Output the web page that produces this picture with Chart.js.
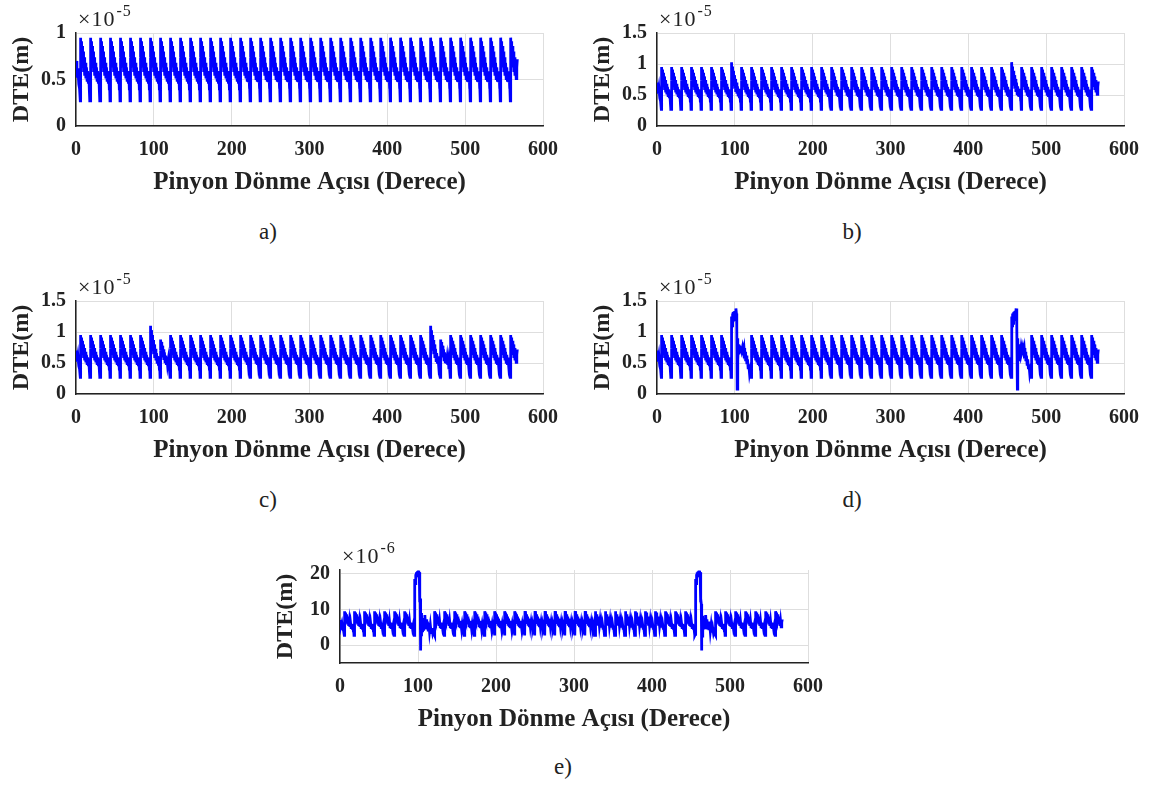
<!DOCTYPE html>
<html>
<head>
<meta charset="utf-8">
<script src="https://cdn.jsdelivr.net/npm/chart.js@4/dist/chart.umd.min.js"></script>
<style>
  body { margin: 0; background: #fff; }
  #page { position: relative; width: 1156px; height: 787px; overflow: hidden; font-family: "Liberation Serif", "Times New Roman", serif; color: #222; }
  canvas { position: absolute; }
  .mult { position: absolute; font-size: 22px; line-height: 1; white-space: nowrap; letter-spacing: 1px; }
  .mult .ex { font-size: 16px; position: relative; top: -10px; margin-left: 1px; }
  .cap { position: absolute; font-size: 23px; transform: translate(-50%, -50%); }
</style>
</head>
<body>
<div id="page"></div>
<script>
// mesh geometry of the pinion (28 teeth)
const meshPeriod = 360 / 28;
const firstOnset = 5.5;
const signalEnd = 567;
const faultTeeth = [7, 35];

// one normal tooth mesh: [phase 0..1, DTE x1e-5 m]
const toothShape = [
  [0.00, 0.27], [0.02, 0.95], [0.05, 0.74], [0.09, 0.91], [0.13, 0.68], [0.18, 0.86],
  [0.23, 0.63], [0.28, 0.80], [0.33, 0.58], [0.38, 0.74], [0.44, 0.54], [0.50, 0.68],
  [0.56, 0.51], [0.62, 0.63], [0.68, 0.49], [0.74, 0.59], [0.80, 0.47], [0.86, 0.55],
  [0.90, 0.40], [0.93, 0.46], [0.97, 0.27]
];

// fault windows: [degrees after the fault tooth onset, DTE]
const faultB = [
  [0, 0.27], [0.3, 1.03], [0.65, 0.78], [1.1, 0.96], [1.6, 0.71], [2.2, 0.89], [2.9, 0.65],
  [3.5, 0.82], [4.2, 0.60], [4.9, 0.76], [5.6, 0.55], [6.4, 0.70], [7.2, 0.52], [7.9, 0.64],
  [8.7, 0.50], [9.5, 0.60], [10.3, 0.47], [11.0, 0.55], [11.6, 0.40], [12.0, 0.46], [12.5, 0.27]
];
const faultC = [
  [0, 0.27], [0.3, 1.10], [0.65, 0.84], [1.1, 1.03], [1.6, 0.76], [2.2, 0.95], [2.9, 0.70],
  [3.5, 0.87], [4.2, 0.64], [4.9, 0.80], [5.6, 0.58], [6.4, 0.73], [7.2, 0.54], [7.9, 0.66],
  [8.7, 0.51], [9.5, 0.61], [10.3, 0.48], [11.0, 0.55], [11.6, 0.40], [12.0, 0.46], [12.5, 0.27],
  [12.9, 0.30], [13.2, 0.88], [13.6, 0.70], [14.1, 0.84], [14.7, 0.64], [15.3, 0.78],
  [16.0, 0.59], [16.7, 0.72], [17.4, 0.55], [18.1, 0.67], [18.9, 0.52], [19.7, 0.62],
  [20.5, 0.49], [21.3, 0.58], [22.1, 0.47], [22.9, 0.54], [23.6, 0.40], [24.3, 0.45], [25.3, 0.27]
];
const faultD = [
  [0, 0.27], [0.3, 0.80], [0.6, 1.25], [1.0, 1.10], [1.4, 1.30], [1.9, 1.14], [2.4, 1.32],
  [2.9, 1.17], [3.5, 1.33], [4.1, 1.18], [4.7, 1.34], [5.3, 1.24], [5.9, 1.38], [6.5, 1.30],
  [7.0, 1.10], [7.5, 0.08], [8.0, 0.90], [8.5, 0.55], [9.1, 0.80], [9.8, 0.64], [10.6, 0.78],
  [11.5, 0.68], [12.4, 0.77], [13.4, 0.70], [14.4, 0.76], [15.4, 0.68], [16.3, 0.74],
  [17.2, 0.58], [17.8, 0.68], [18.4, 0.53], [19.2, 0.62], [20.0, 0.48], [20.8, 0.56],
  [21.6, 0.42], [22.4, 0.48], [23.4, 0.33], [24.4, 0.40], [25.3, 0.27]
];
// panel e is in x1e-6 m
const faultE = [
  [0, 3], [0.3, 8], [0.6, 18.5], [1.0, 17.2], [1.4, 19.8], [1.9, 18.4], [2.5, 20.3], [3.1, 19.0],
  [3.7, 20.6], [4.3, 19.3], [4.9, 20.8], [5.5, 19.6], [6.1, 20.4], [6.6, 15], [6.9, 12],
  [7.3, 13], [7.7, 11.5], [8.0, -1.5], [8.4, 9], [8.8, 2.5], [9.3, 8.2], [9.8, 4], [10.4, 7.6],
  [11.1, 4.4], [11.8, 7.4], [12.6, 4.8], [13.3, 8.4], [14.1, 5.2], [14.9, 7.2], [15.7, 4.4],
  [16.6, 6.6], [17.5, 4.2], [18.4, 6.2], [19.3, 3.8], [20.3, 5.6], [21.3, 3.5], [22.3, 4.8],
  [23.4, 3.2], [24.4, 3.9], [25.3, 3]
];

const xTicks = [0, 100, 200, 300, 400, 500, 600];
const yTicksA = [0, 0.5, 1];
const yTicksB = [0, 0.5, 1, 1.5];
const yTicksE = [0, 10, 20];

function buildSeries(scale, fault) {
  const pts = [{ x: 0, y: 0.70 * scale }, { x: 1.2, y: 0.52 * scale }, { x: 2.4, y: 0.62 * scale },
               { x: 3.6, y: 0.45 * scale }, { x: 4.6, y: 0.40 * scale }];
  for (let k = 0; k < 45; k++) {
    const onset = firstOnset + k * meshPeriod;
    if (fault) {
      const fk = faultTeeth.find(t => k >= t && (k - t) * meshPeriod < fault[fault.length - 1][0] - 0.1);
      if (fk !== undefined) {
        if (fk === k) fault.forEach(([dx, v]) => pts.push({ x: onset + dx, y: v }));
        continue;
      }
    }
    toothShape.forEach(([p, v]) => pts.push({ x: onset + p * meshPeriod, y: v * scale }));
  }
  const out = pts.filter(p => p.x <= signalEnd);
  out.push({ x: signalEnd, y: 0.72 * scale });
  return out;
}

const panels = [
  { L: 76,  T: 33,  R: 543,  B: 126, ymin: 0,  ymax: 1,   ticks: yTicksA, data: buildSeries(1, null),    exp: '-5', cap: 'a)', cx: 268, cy: 232 },
  { L: 657, T: 33,  R: 1124, B: 126, ymin: 0,  ymax: 1.5, ticks: yTicksB, data: buildSeries(1, faultB),  exp: '-5', cap: 'b)', cx: 852, cy: 232 },
  { L: 76,  T: 301, R: 543,  B: 394, ymin: 0,  ymax: 1.5, ticks: yTicksB, data: buildSeries(1, faultC),  exp: '-5', cap: 'c)', cx: 268, cy: 500 },
  { L: 657, T: 301, R: 1124, B: 394, ymin: 0,  ymax: 1.5, ticks: yTicksB, data: buildSeries(1, faultD),  exp: '-5', cap: 'd)', cx: 852, cy: 500 },
  { L: 340, T: 570, R: 808,  B: 663, ymin: -5, ymax: 21,  ticks: yTicksE, data: buildSeries(10, faultE), exp: '-6', cap: 'e)', cx: 563, cy: 767 }
];

const page = document.getElementById('page');
const ink = '#222';
const gridCol = '#dedede';
const padTop = 26, padRight = 30, yAxisW = 76, xAxisH = 72;

panels.forEach(p => {
  const cv = document.createElement('canvas');
  const w = p.R - p.L + yAxisW + padRight;
  const h = p.B - p.T + padTop + xAxisH;
  cv.width = w; cv.height = h;
  cv.style.left = (p.L - yAxisW) + 'px';
  cv.style.top = (p.T - padTop) + 'px';
  cv.style.width = w + 'px'; cv.style.height = h + 'px';
  page.appendChild(cv);

  const m = document.createElement('div');
  m.className = 'mult';
  m.style.left = (p.L + 2) + 'px';
  m.style.top = (p.T - 25) + 'px';
  m.innerHTML = '×10<span class="ex">' + p.exp + '</span>';
  page.appendChild(m);

  const c = document.createElement('div');
  c.className = 'cap';
  c.style.left = p.cx + 'px';
  c.style.top = p.cy + 'px';
  c.textContent = p.cap;
  page.appendChild(c);

  new Chart(cv, {
    type: 'line',
    data: {
      datasets: [{
        data: p.data,
        borderColor: '#0000ff',
        borderWidth: 2.8,
        pointRadius: 0,
        tension: 0,
        fill: false
      }]
    },
    options: {
      responsive: false,
      animation: false,
      layout: { padding: { top: padTop, right: padRight, left: 0, bottom: 0 } },
      plugins: { legend: { display: false }, tooltip: { enabled: false } },
      scales: {
        x: {
          type: 'linear', min: 0, max: 600,
          afterBuildTicks: s => { s.ticks = xTicks.map(v => ({ value: v })); },
          afterFit: s => { s.height = xAxisH; },
          ticks: { color: ink, padding: 12, font: { family: 'Liberation Serif', weight: 'bold', size: 20 } },
          grid: { color: gridCol, drawTicks: false },
          border: { color: ink, width: 1.5 },
          title: { display: true, text: 'Pinyon Dönme Açısı (Derece)', color: ink, padding: 0,
                   font: { family: 'Liberation Serif', weight: 'bold', size: 25 } }
        },
        y: {
          type: 'linear', min: p.ymin, max: p.ymax,
          afterBuildTicks: s => { s.ticks = p.ticks.map(v => ({ value: v })); },
          afterFit: s => { s.width = yAxisW; },
          ticks: { color: ink, padding: 10, callback: v => String(v),
                   font: { family: 'Liberation Serif', weight: 'bold', size: 20 } },
          grid: { color: gridCol, drawTicks: false },
          border: { color: ink, width: 1.5 },
          title: { display: true, text: 'DTE(m)', color: ink, padding: { top: 7, bottom: 0 },
                   font: { family: 'Liberation Serif', weight: 'bold', size: 24 } }
        }
      }
    }
  });
});
</script>
</body>
</html>
